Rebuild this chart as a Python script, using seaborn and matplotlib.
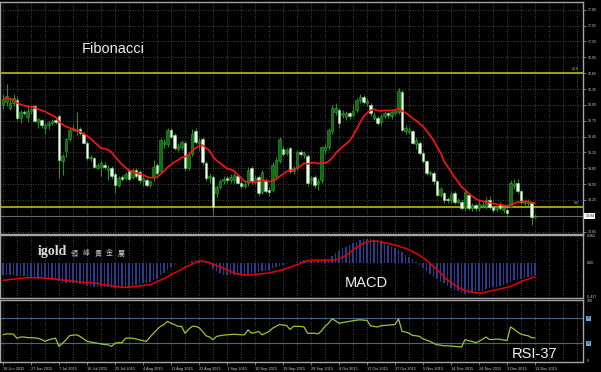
import numpy as np
import pandas as pd
import matplotlib
matplotlib.use("Agg")
import matplotlib.pyplot as plt
import matplotlib.transforms as mtransforms
import seaborn as sns

# ---------------- data ----------------
date_labels = ["18 Jun 2015", "27 Jun 2015", "7 Jul 2015", "16 Jul 2015", "25 Jul 2015",
               "4 Aug 2015", "13 Aug 2015", "22 Aug 2015", "1 Sep 2015", "10 Sep 2015",
               "19 Sep 2015", "29 Sep 2015", "8 Oct 2015", "17 Oct 2015", "27 Oct 2015",
               "5 Nov 2015", "14 Nov 2015", "24 Nov 2015", "3 Dec 2015", "12 Dec 2015"]

opens = [
    16.05, 16.10, 16.00, 16.08, 16.15, 15.80, 15.92, 15.82, 15.93, 16.02,
    15.72, 15.76, 15.62, 15.66, 15.70, 15.76, 15.84, 14.98, 15.17, 15.40,
    15.58, 15.56, 15.60, 15.50, 15.33, 15.04, 15.04, 14.86, 14.88, 14.92,
    14.82, 14.86, 14.74, 14.54, 14.68, 14.66, 14.80, 14.68, 14.82, 14.78,
    14.60, 14.63, 14.54, 14.68, 14.92, 14.80, 15.30, 15.30, 15.58, 15.48,
    15.22, 15.26, 15.33, 14.86, 15.12, 15.55, 15.32, 15.40, 14.95, 14.66,
    14.69, 14.38, 14.50, 14.60, 14.66, 14.62, 14.62, 14.70, 14.58, 14.52,
    14.57, 14.85, 14.60, 14.69, 14.40, 14.62, 14.44, 14.44, 14.70, 14.98,
    15.22, 15.14, 15.23, 14.80, 14.86, 15.16, 15.10, 15.08, 14.62, 14.69,
    14.55, 14.62, 15.20, 15.26, 15.55, 15.92, 15.96, 15.86, 15.82, 15.89,
    15.86, 15.96, 16.14, 16.20, 16.08, 16.04, 15.80, 15.80, 15.72, 15.84,
    15.89, 15.84, 15.89, 15.92, 16.30, 15.55, 15.54, 15.55, 15.30, 15.33,
    15.14, 14.98, 14.75, 14.76, 14.60, 14.35, 14.38, 14.27, 14.25, 14.38,
    14.22, 14.22, 14.09, 14.35, 14.09, 14.15, 14.09, 14.14, 14.12, 14.25,
    14.12, 14.08, 14.18, 14.06, 14.06, 14.12, 14.52, 14.57, 14.41, 14.19,
    14.20, 14.19, 13.92]

closes = [
    16.15, 16.22, 16.08, 16.18, 15.80, 15.92, 15.90, 15.93, 15.98, 15.75,
    15.78, 15.66, 15.66, 15.70, 15.74, 15.72, 15.00, 15.08, 15.40, 15.58,
    15.62, 15.60, 15.52, 15.33, 15.04, 15.06, 14.88, 14.92, 14.95, 14.88,
    14.86, 14.70, 14.53, 14.66, 14.64, 14.74, 14.64, 14.82, 14.70, 14.63,
    14.66, 14.54, 14.60, 14.88, 14.76, 15.38, 15.34, 15.58, 15.45, 15.24,
    15.28, 15.34, 14.86, 15.10, 15.50, 15.34, 15.36, 14.96, 14.66, 14.70,
    14.12, 14.50, 14.60, 14.64, 14.62, 14.68, 14.72, 14.58, 14.51, 14.56,
    14.82, 14.60, 14.66, 14.38, 14.78, 14.42, 14.40, 14.91, 15.01, 15.40,
    15.12, 15.20, 14.80, 14.86, 15.16, 15.12, 15.14, 14.57, 14.66, 14.53,
    14.61, 15.25, 15.26, 15.58, 15.99, 16.00, 15.70, 15.90, 15.89, 15.83,
    15.93, 16.14, 16.20, 16.10, 16.12, 15.90, 15.86, 15.70, 15.84, 15.89,
    15.86, 15.92, 15.93, 16.31, 15.58, 15.62, 15.58, 15.33, 15.38, 15.14,
    14.98, 14.76, 14.78, 14.60, 14.35, 14.45, 14.25, 14.24, 14.37, 14.22,
    14.24, 14.09, 14.40, 14.09, 14.15, 14.09, 14.18, 14.16, 14.25, 14.12,
    14.06, 14.12, 14.09, 14.09, 14.00, 14.57, 14.56, 14.41, 14.22, 14.22,
    14.22, 13.93, 13.94]

highs = [
    16.25, 16.45, 16.20, 16.25, 16.20, 15.95, 15.96, 16.02, 16.02, 16.05,
    15.80, 15.78, 15.70, 15.74, 15.78, 15.80, 15.86, 15.12, 15.42, 15.62,
    15.66, 15.92, 15.64, 15.54, 15.36, 15.10, 15.06, 14.95, 15.00, 14.96,
    14.92, 14.90, 14.78, 14.70, 14.72, 14.78, 14.84, 14.86, 14.86, 14.82,
    14.72, 14.66, 14.63, 15.01, 14.95, 15.42, 15.40, 15.62, 15.62, 15.52,
    15.32, 15.38, 15.36, 15.14, 15.60, 15.62, 15.42, 15.44, 14.98, 14.76,
    14.72, 14.54, 14.64, 14.70, 14.70, 14.74, 14.76, 14.74, 14.62, 14.60,
    14.88, 14.90, 14.72, 14.72, 14.82, 14.66, 14.50, 14.96, 15.06, 15.44,
    15.28, 15.24, 15.26, 14.90, 15.20, 15.20, 15.18, 15.12, 14.70, 14.72,
    14.66, 15.28, 15.30, 15.62, 16.04, 16.08, 16.00, 15.96, 15.94, 15.92,
    16.06, 16.18, 16.26, 16.24, 16.18, 16.08, 15.92, 15.84, 15.88, 15.94,
    15.92, 15.96, 15.98, 16.36, 16.34, 15.66, 15.64, 15.58, 15.44, 15.36,
    15.18, 15.00, 14.82, 14.80, 14.62, 14.50, 14.40, 14.30, 14.40, 14.42,
    14.28, 14.25, 14.45, 14.38, 14.20, 14.18, 14.24, 14.22, 14.30, 14.32,
    14.16, 14.16, 14.22, 14.12, 14.10, 14.63, 14.64, 14.64, 14.44, 14.26,
    14.26, 14.22, 13.98]

lows = [
    15.98, 16.02, 15.95, 16.02, 15.76, 15.70, 15.85, 15.72, 15.88, 15.72,
    15.62, 15.62, 15.50, 15.60, 15.66, 15.68, 14.66, 14.72, 15.06, 15.36,
    15.55, 15.48, 15.48, 15.30, 15.00, 14.98, 14.85, 14.84, 14.70, 14.84,
    14.63, 14.65, 14.38, 14.50, 14.60, 14.62, 14.60, 14.64, 14.66, 14.58,
    14.52, 14.50, 14.50, 14.60, 14.72, 14.76, 15.24, 15.26, 15.42, 15.20,
    15.18, 15.20, 14.80, 14.82, 15.08, 15.30, 15.20, 14.92, 14.60, 14.58,
    13.97, 14.30, 14.45, 14.55, 14.58, 14.58, 14.58, 14.55, 14.48, 14.48,
    14.52, 14.56, 14.55, 14.32, 14.36, 14.38, 14.33, 14.40, 14.63, 14.94,
    15.08, 15.10, 14.76, 14.74, 14.82, 15.08, 15.04, 14.52, 14.55, 14.48,
    14.44, 14.58, 15.12, 15.20, 15.50, 15.85, 15.62, 15.80, 15.76, 15.78,
    15.82, 15.92, 16.08, 16.06, 16.02, 15.84, 15.76, 15.66, 15.66, 15.80,
    15.80, 15.78, 15.86, 15.88, 15.55, 15.50, 15.50, 15.30, 15.22, 15.10,
    14.94, 14.72, 14.70, 14.56, 14.32, 14.30, 14.20, 14.20, 14.20, 14.18,
    14.18, 14.05, 14.06, 14.05, 14.04, 14.04, 14.04, 14.10, 14.08, 14.08,
    14.02, 14.02, 14.05, 14.00, 13.92, 14.10, 14.46, 14.38, 14.18, 14.14,
    14.14, 13.78, 13.90]

macd_hist = [
    -0.15, -0.15, -0.15, -0.15, -0.16, -0.16, -0.16, -0.17,
    -0.18, -0.18, -0.19, -0.19, -0.20, -0.20, -0.21, -0.21, -0.22,
    -0.24, -0.25, -0.25, -0.25, -0.25, -0.26, -0.27, -0.28, -0.28, -0.29, -0.29,
    -0.30, -0.30, -0.30, -0.31, -0.31, -0.31, -0.30, -0.30,
    -0.29, -0.28, -0.27, -0.26, -0.25, -0.24,
    -0.23, -0.21, -0.19, -0.15, -0.12, -0.08, -0.05,
    -0.02, 0.00, 0.01, 0.01, 0.02, 0.03, 0.04, 0.04, 0.03, 0.02,
    -0.02, -0.07, -0.10, -0.12, -0.14, -0.15, -0.15, -0.15,
    -0.15, -0.14, -0.14, -0.13, -0.12, -0.12, -0.11, -0.10, -0.09,
    -0.08, -0.06, -0.05, -0.03, -0.02, -0.01, 0.00, 0.01, 0.02, 0.03,
    0.04, 0.04, 0.04, 0.04, 0.04, 0.05, 0.05, 0.06,
    0.09, 0.13, 0.16, 0.19, 0.21, 0.23, 0.25, 0.27, 0.29, 0.30, 0.30,
    0.30, 0.29, 0.28, 0.27, 0.25, 0.23, 0.21, 0.19, 0.17, 0.14, 0.11, 0.08, 0.05,
    0.02, -0.02, -0.06, -0.09, -0.13, -0.17, -0.20, -0.23, -0.25, -0.28, -0.31,
    -0.33, -0.35, -0.37, -0.38, -0.38,
    -0.37, -0.36, -0.35, -0.34, -0.32, -0.31, -0.30, -0.29, -0.28, -0.27,
    -0.25, -0.23, -0.21, -0.20, -0.19, -0.18, -0.17, -0.16, -0.15]

macd_signal = [
    -0.21, -0.21, -0.20, -0.20, -0.19, -0.19, -0.18, -0.18, -0.18,
    -0.18, -0.18, -0.18, -0.19, -0.19, -0.19, -0.20, -0.20, -0.21, -0.21,
    -0.22, -0.22, -0.23, -0.23, -0.24, -0.24, -0.24, -0.25, -0.25, -0.26,
    -0.27, -0.27, -0.28, -0.29, -0.29, -0.30, -0.30, -0.30,
    -0.29, -0.29, -0.28, -0.28, -0.27, -0.27, -0.25, -0.23,
    -0.21, -0.19, -0.17, -0.14, -0.12, -0.10, -0.075, -0.05,
    -0.03, -0.01, 0.01, 0.03, 0.03, 0.02, 0.01, -0.01,
    -0.03, -0.04, -0.06, -0.08, -0.10, -0.12, -0.13, -0.14,
    -0.145, -0.145, -0.14, -0.14, -0.135, -0.13, -0.125, -0.12,
    -0.11, -0.10, -0.09, -0.08, -0.06, -0.05, -0.03, -0.02, 0.00,
    0.02, 0.03, 0.04, 0.04, 0.04, 0.04, 0.04, 0.04, 0.04, 0.045,
    0.06, 0.08, 0.10, 0.13, 0.17, 0.20, 0.23, 0.25, 0.27,
    0.28, 0.28, 0.28, 0.27, 0.26, 0.25, 0.24, 0.23,
    0.22, 0.20, 0.19, 0.17, 0.15, 0.125, 0.10, 0.07, 0.04,
    0.00, -0.04, -0.08, -0.12, -0.17, -0.21, -0.24, -0.27, -0.30,
    -0.32, -0.34, -0.35, -0.36, -0.37, -0.37, -0.37, -0.36, -0.35,
    -0.34, -0.33, -0.32, -0.31, -0.30, -0.29, -0.27, -0.25, -0.23, -0.21,
    -0.20, -0.18, -0.17]

rsi = [
    43.5, 45, 45, 44.5, 38, 40, 40, 39, 39, 38.5,
    38, 36, 33, 35.5, 37, 38, 25, 30, 35.5, 42,
    43, 43.5, 41, 37, 33, 32, 31, 30, 29, 28,
    27.5, 25, 30, 31, 31, 38, 38.5, 38, 37, 35.5,
    34, 33, 40, 46, 52, 57, 60, 65, 62, 60,
    57, 57, 46, 52, 57, 57, 55, 49, 42, 40,
    35.5, 41, 42, 43, 43.5, 44, 44.5, 44, 43.5, 43.5,
    51.5, 46, 47, 49, 43.5, 46, 49, 54, 57, 60,
    59, 58.5, 52, 57, 57, 57, 56, 46, 46, 46,
    45, 50, 57, 62, 69, 66, 62, 63, 64, 65,
    66, 67, 67.5, 67, 66.5, 58, 57, 56, 58, 58.5,
    59, 59.5, 60, 69, 49, 48, 46, 42.5, 42, 41,
    37, 35, 33, 30, 27.5, 27, 26, 26, 25.5, 25,
    24.5, 24, 36, 34, 33, 31, 33, 36.5, 40, 36,
    36, 36.5, 36.5, 35, 34.5, 56, 52.5, 48, 44.5, 43,
    42, 39, 38.5]

price_ticks = [17.85, 17.55, 17.25, 16.95, 16.65, 16.35, 16.05, 15.75,
               15.45, 15.15, 14.85, 14.55, 14.25, 13.95, 13.65]
fib_levels = [16.66, 14.12]
fib_labels = ["23.6", "0.0"]
macd_scale_labels = ["0.362", "0.00", "-0.417"]
macd_scale_values = [0.348, 0.0, -0.417]
rsi_levels = [70, 30]
ma_period = 13

# ---------------- style ----------------
sns.set_style("dark")
plt.rcParams['font.family'] = ['Liberation Sans', 'Noto Sans CJK TC', 'DejaVu Sans']
plt.rcParams['patch.force_edgecolor'] = False

FRAME = '#a4a4a4'
GRID = '#5a5a5a'
TXT = '#cfcfcf'
W, H = 601, 372

n = len(closes)
df = pd.DataFrame({"bar": np.arange(n), "open": opens, "high": highs, "low": lows,
                   "close": closes, "hist": macd_hist, "signal": macd_signal, "rsi": rsi})
df["ma"] = df["close"].rolling(ma_period, min_periods=1).mean()

fig = plt.figure(figsize=(W / 100, H / 100), dpi=100, facecolor='black')


def px_axes(x0, y0, x1, y1):
    return fig.add_axes([x0 / W, 1 - y1 / H, (x1 - x0) / W, (y1 - y0) / H])


ax_p = px_axes(0, 1.5, 583, 234)
ax_m = px_axes(0, 235, 583, 298)
ax_r = px_axes(0, 299.5, 583, 362)

XLIM = (-0.86, 165.7)
for ax in (ax_p, ax_m, ax_r):
    ax.set_facecolor('black')
    for s in ax.spines.values():
        s.set_color(FRAME)
        s.set_linewidth(1.0)
    for gx in range(0, 166, 4):
        ax.axvline(gx, color=GRID, lw=0.6, ls=(0, (1, 2)), zorder=0)
    ax.tick_params(left=False, labelleft=False, bottom=False, labelbottom=False)
    ax.grid(False)

# ---------------- price panel ----------------
for p in price_ticks:
    ax_p.axhline(p, color=GRID, lw=0.6, ls=(0, (1, 2)), zorder=0)
for lv, lb in zip(fib_levels, fib_labels):
    ax_p.axhline(lv, color='#cccc00', lw=1.1, zorder=2)
    ax_p.text(164.6, lv + 0.03, lb, ha='right', va='bottom', color='#cccc00', fontsize=2.6)
ax_p.axhline(closes[-1], color='#6a6a6a', lw=0.8, zorder=1)

bull = (df["close"] >= df["open"]).values
bottom = np.minimum(df["open"], df["close"]).values
height = np.maximum((df["close"] - df["open"]).abs().values, 0.012)
x = df["bar"].values
ax_p.vlines(x, df["low"], df["high"], color='#1f9a1f', lw=0.7, zorder=3)
ax_p.bar(x[bull], height[bull], bottom=bottom[bull], width=0.62,
         color='#146a14', edgecolor='#2aa82a', linewidth=0.4, zorder=4)
ax_p.bar(x[~bull], height[~bull], bottom=bottom[~bull], width=0.62,
         color='#f4fff4', edgecolor='#8fd88f', linewidth=0.4, zorder=4)
sns.lineplot(data=df, x="bar", y="ma", ax=ax_p, color='#ff1414', linewidth=1.2,
             legend=False, zorder=6)
ax_p.set_ylim(13.605, 18.007)
ax_p.yaxis.tick_right()
ax_p.set_yticks(price_ticks)
ax_p.set_yticklabels([f"{p:.2f}" if abs(p - 13.95) > 1e-6 else "" for p in price_ticks])
ax_p.tick_params(axis='y', right=True, labelright=True, left=False, labelleft=False,
                 length=2, width=0.5, color=FRAME, labelsize=2.6, labelcolor=TXT, pad=1.2)
bt = mtransforms.blended_transform_factory(ax_p.transAxes, ax_p.transData)
ax_p.text(1.004, closes[-1], f"{closes[-1]:.2f}", transform=bt, ha='left', va='center',
          fontsize=2.6, color='black',
          bbox=dict(boxstyle='square,pad=0.25', fc='white', ec='none'), clip_on=False)

# ---------------- MACD panel ----------------
ax_m.bar(x, df["hist"], width=0.45, color='#2a3c90', edgecolor='none', linewidth=0,
         zorder=3)
sns.lineplot(data=df, x="bar", y="signal", ax=ax_m, color='#e60000', linewidth=1.1,
             legend=False, zorder=5)
ax_m.set_ylim(-0.434, 0.356)
bm = mtransforms.blended_transform_factory(ax_m.transAxes, ax_m.transData)
for v, t in zip(macd_scale_values, macd_scale_labels):
    ax_m.text(1.007, v, t, transform=bm, ha='left', va='center', fontsize=2.6,
              color=TXT, clip_on=False)

# ---------------- RSI panel ----------------
for lv in rsi_levels:
    ax_r.axhline(lv, color='#46667f', lw=0.8, zorder=2)
sns.lineplot(data=df, x="bar", y="rsi", ax=ax_r, color='#9cc43a', linewidth=0.9,
             legend=False, zorder=5)
ax_r.set_ylim(0, 100)
br = mtransforms.blended_transform_factory(ax_r.transAxes, ax_r.transData)
ax_r.text(1.007, 97, "100", transform=br, ha='left', va='center', fontsize=2.6,
          color=TXT, clip_on=False)
ax_r.text(1.007, 2, "0", transform=br, ha='left', va='center', fontsize=2.6,
          color=TXT, clip_on=False)
for lv in rsi_levels:
    ax_r.text(1.007, lv, str(lv), transform=br, ha='left', va='center', fontsize=2.4,
              color='#0c2040', clip_on=False,
              bbox=dict(boxstyle='square,pad=0.2', fc='#6aa6d8', ec='none'))

ax_r.set_xticks(list(range(0, 8 * len(date_labels), 8)))
ax_r.set_xticklabels(date_labels, ha='left')
ax_r.tick_params(axis='x', bottom=True, labelbottom=True, length=2.5, width=0.5,
                 color=FRAME, labelsize=2.8, labelcolor=TXT, pad=0.8)

for ax in (ax_p, ax_m, ax_r):
    ax.set_xlim(*XLIM)
    ax.set_xlabel("")
    ax.set_ylabel("")

# ---------------- overlay texts ----------------
def ftext(px, py, s, **kw):
    fig.text(px / W, 1 - py / H, s, **kw)


ftext(82, 53, "Fibonacci", fontsize=10.5, color='#ececec', va='baseline')
ftext(345, 287, "MACD", fontsize=10.5, color='#f2f2f2', va='baseline')
ftext(512, 358, "RSI-37", fontsize=10.5, color='#f2f2f2', va='baseline')
ftext(38, 255, "igold", fontsize=10, color='#dcdcdc', va='baseline',
      family=['Liberation Serif', 'DejaVu Serif'], fontweight='bold')
for k, ch in enumerate("領峰貴金屬"):
    ftext(71 + 11.6 * k, 253.5, ch, fontsize=5, color='#c8c8c8', va='center',
          family=['Noto Sans CJK TC', 'DejaVu Sans'])

fig.savefig("out.png", dpi=100, facecolor='black')
